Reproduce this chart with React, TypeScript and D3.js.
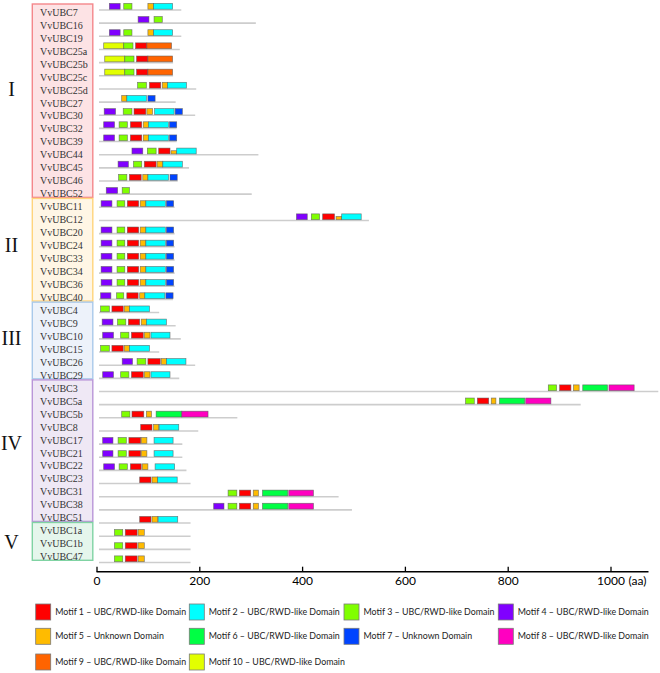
import React, { useEffect, useRef } from "react";
import * as d3 from "d3";

// ---------- DATA ----------
const geneNames = [
  "VvUBC7", "VvUBC16", "VvUBC19", "VvUBC25a", "VvUBC25b", "VvUBC25c", "VvUBC25d", "VvUBC27",
  "VvUBC30", "VvUBC32", "VvUBC39", "VvUBC44", "VvUBC45", "VvUBC46", "VvUBC52",
  "VvUBC11", "VvUBC12", "VvUBC20", "VvUBC24", "VvUBC33", "VvUBC34", "VvUBC36", "VvUBC40",
  "VvUBC4", "VvUBC9", "VvUBC10", "VvUBC15", "VvUBC26", "VvUBC29",
  "VvUBC3", "VvUBC5a", "VvUBC5b", "VvUBC8", "VvUBC17", "VvUBC21", "VvUBC22", "VvUBC23",
  "VvUBC31", "VvUBC38", "VvUBC51",
  "VvUBC1a", "VvUBC1b", "VvUBC47",
];

const geneLengths = [
  165, 310, 165, 162, 149, 149, 194, 154, 192, 156, 156, 315, 180, 158, 302,
  152, 530, 152, 152, 152, 152, 152, 149,
  122, 154, 164, 122, 192, 161,
  1093, 942, 274, 198, 167, 167, 175, 183, 471, 497, 183,
  183, 183, 183,
];

// [motif, start, end, weak?]
type M = [number, number, number, number?];
const m7: M[] = [[4, 25, 46], [3, 53, 69], [5, 100, 111], [2, 111, 148]];
const m25b: M[] = [[10, 16, 55], [3, 55, 73], [1, 78, 100], [9, 100, 148]];
const m32: M[] = [[4, 14, 35], [3, 44, 60], [1, 66, 88], [5, 91, 101], [2, 101, 140], [7, 142, 156]];
const m11: M[] = [[4, 9, 30], [3, 40, 55], [1, 60, 82], [5, 85, 96], [2, 96, 134], [7, 136, 150]];
const m4: M[] = [[3, 8, 25], [1, 30, 52], [5, 54, 64], [2, 64, 103]];
const m10: M[] = [[4, 12, 33], [3, 47, 63], [1, 68, 91], [5, 93, 104], [2, 106, 143]];
const m17: M[] = [[4, 12, 32], [3, 42, 58], [1, 63, 86], [5, 87, 98], [2, 112, 149]];
const m31: M[] = [[3, 256, 273], [1, 278, 300], [5, 305, 315], [6, 323, 372], [8, 374, 422]];
const m1a: M[] = [[3, 35, 51], [1, 56, 79], [5, 81, 93]];

const geneMotifs: M[][] = [
  m7,
  [[4, 81, 102], [3, 112, 128]],
  m7,
  [[10, 14, 53], [3, 53, 71], [1, 76, 98], [9, 98, 146]],
  m25b,
  m25b,
  [[3, 80, 97], [1, 103, 125], [5, 128, 138], [2, 138, 175]],
  [[5, 49, 59], [2, 59, 97], [7, 100, 114]],
  [[4, 15, 37], [3, 52, 69], [1, 73, 96], [5, 98, 109], [2, 113, 151], [7, 153, 167]],
  m32,
  m32,
  [[4, 69, 90], [3, 99, 116], [1, 121, 143], [5, 145, 156, 1], [2, 156, 194]],
  [[4, 42, 62], [3, 72, 88], [1, 93, 116], [5, 118, 129], [2, 129, 167]],
  [[3, 43, 59], [1, 64, 87], [5, 90, 100], [2, 100, 140], [7, 143, 157]],
  [[4, 19, 41], [3, 50, 64]],
  m11,
  [[4, 389, 410], [3, 418, 434], [1, 440, 463], [5, 466, 477, 1], [2, 477, 515]],
  m11, m11, m11, m11, m11,
  [[4, 8, 28], [3, 39, 53], [1, 59, 81], [5, 84, 94], [2, 94, 133], [7, 135, 149]],
  m4,
  [[4, 11, 32], [3, 41, 57], [1, 62, 84], [5, 87, 97], [2, 97, 136]],
  m10,
  m4,
  [[4, 50, 70], [3, 79, 96], [1, 100, 124], [5, 126, 136], [2, 136, 174]],
  m10,
  [[3, 879, 895], [1, 901, 923], [5, 928, 939], [6, 946, 994], [8, 997, 1046]],
  [[3, 718, 735], [1, 741, 763], [5, 768, 777], [6, 784, 833], [8, 835, 884]],
  [[3, 49, 65], [1, 69, 92], [5, 97, 107], [6, 116, 166], [8, 166, 217]],
  [[1, 86, 108], [5, 111, 121], [2, 122, 160]],
  m17,
  m17,
  [[4, 14, 35], [3, 44, 60], [1, 66, 87], [5, 89, 100], [2, 114, 152]],
  [[1, 84, 106], [5, 108, 119], [2, 119, 157]],
  m31,
  [[4, 228, 248], ...m31],
  [[1, 84, 106], [5, 108, 119], [2, 120, 158]],
  m1a, m1a, m1a,
];

const groupNames = ["I", "II", "III", "IV", "V"];
const groupSizes = [15, 8, 6, 11, 3];
const groupFills = ["#fde3e5", "#fff6e5", "#edf2fa", "#efe8f5", "#e5f6ec"];
const groupStrokes = ["#f4878b", "#ffd47c", "#a9c9ea", "#b996d8", "#80d3a3"];

const motifColors = [
  "#ff0000", "#00ffff", "#80ff00", "#8000ff", "#ffbb00",
  "#00ff44", "#0044ff", "#ff00c0", "#ff6400", "#e2ff00",
];
const motifLabels = [
  "Motif 1 \u2013 UBC/RWD-like Domain",
  "Motif 2 \u2013 UBC/RWD-like Domain",
  "Motif 3 \u2013 UBC/RWD-like Domain",
  "Motif 4 \u2013 UBC/RWD-like Domain",
  "Motif 5 \u2013 Unknown Domain",
  "Motif 6 \u2013 UBC/RWD-like Domain",
  "Motif 7 \u2013 Unknown Domain",
  "Motif 8 \u2013 UBC/RWD-like Domain",
  "Motif 9 \u2013 UBC/RWD-like Domain",
  "Motif 10 \u2013 UBC/RWD-like Domain",
];
const axisTicks = [0, 200, 400, 600, 800, 1000];
const axisUnit = "(aa)";

// ---------- LAYOUT ----------
const W = 660;
const H = 673;
const x = d3.scaleLinear().domain([0, 1000]).range([96.5, 610.5]);
const rowY = d3.scalePoint<number>().domain(d3.range(geneNames.length)).range([9.2, 561.7]);
const labelY = d3.scaleLinear().domain([0, geneNames.length - 1]).range([12.3, 556.7]);
const axisY = 571.7;
const boxH = 5.8;

const legendCols = [35.7, 189.3, 344, 498.3];
const legendRows = [612, 636.3, 662];
const sansFont = "Lato, 'Open Sans', sans-serif";
const serifFont = "'Liberation Serif', 'Times New Roman', serif";

export default function App() {
  const axisRef = useRef<SVGGElement>(null);

  useEffect(() => {
    if (!axisRef.current) return;
    const g = d3.select(axisRef.current);
    g.selectAll("*").remove();
    g.call(
      d3.axisBottom(x)
        .tickValues(axisTicks)
        .tickSizeInner(-5)
        .tickSizeOuter(0)
        .tickPadding(5)
        .tickFormat((d) => String(d))
    );
    g.select(".domain").remove();
    g.selectAll(".tick line").attr("stroke", "#000").attr("stroke-width", 1.3);
    g.selectAll(".tick text")
      .attr("font-family", sansFont)
      .attr("font-size", 12)
      .attr("fill", "#000");
    g.insert("line", ":first-child")
      .attr("x1", x(0))
      .attr("x2", x(1000) + 38)
      .attr("y1", 0)
      .attr("y2", 0)
      .attr("stroke", "#000")
      .attr("stroke-width", 1.5);
  }, []);

  const groups: { name: string; first: number; last: number; i: number }[] = [];
  let acc = 0;
  groupSizes.forEach((n, i) => {
    groups.push({ name: groupNames[i], first: acc, last: acc + n - 1, i });
    acc += n;
  });

  return (
    <svg
      width={W}
      height={H}
      style={{ position: "absolute", left: 0, top: 0, background: "#fff" }}
    >
      {groups.map((g) => {
        const top = labelY(g.first) - 8.3;
        const bottom = labelY(g.last) + 3.6;
        const ly = labelY(g.first + (g.last - g.first) * 0.42);
        return (
          <g key={g.name}>
            <rect
              x={32.3}
              y={top}
              width={60.5}
              height={bottom - top}
              fill={groupFills[g.i]}
              stroke={groupStrokes[g.i]}
              strokeWidth={1.4}
            />
            <text
              x={11.5}
              y={ly}
              dy="0.35em"
              textAnchor="middle"
              fontFamily={serifFont}
              fontSize={20}
              fill="#111"
            >
              {g.name}
            </text>
          </g>
        );
      })}

      {geneNames.map((name, i) => (
        <text
          key={name}
          x={40}
          y={labelY(i)}
          dy="0.35em"
          fontFamily={serifFont}
          fontSize={10}
          fill="#333"
        >
          {name}
        </text>
      ))}

      {geneNames.map((name, i) => (
        <line
          key={"l" + name}
          x1={x(0) + 2.5}
          x2={x(geneLengths[i])}
          y1={rowY(i)! + 0.8}
          y2={rowY(i)! + 0.8}
          stroke="#cdcdcd"
          strokeWidth={1.6}
        />
      ))}

      {geneMotifs.map((ms, i) =>
        ms.map((m, j) => {
          const h = m[3] ? boxH * 0.55 : boxH;
          return (
            <rect
              key={i + "-" + j}
              x={x(m[1])}
              y={rowY(i)! - h}
              width={x(m[2]) - x(m[1])}
              height={h}
              fill={motifColors[m[0] - 1]}
              stroke="#5a5a5a"
              strokeOpacity={0.75}
              strokeWidth={0.7}
            />
          );
        })
      )}

      <g ref={axisRef} transform={`translate(0,${axisY})`} />
      <text
        x={x(1000) + 18}
        y={axisY + 5}
        dy="0.71em"
        fontFamily={sansFont}
        fontSize={12}
        fill="#000"
      >
        {axisUnit}
      </text>

      {motifLabels.map((lab, i) => {
        const col = i % 4;
        const row = Math.floor(i / 4);
        const lx = legendCols[col];
        const ly = legendRows[row];
        return (
          <g key={lab}>
            <rect
              x={lx}
              y={ly - 8}
              width={15}
              height={16}
              fill={motifColors[i]}
              stroke="#7a7a7a"
              strokeWidth={0.8}
            />
            <text
              x={lx + 19.5}
              y={ly}
              dy="0.35em"
              fontFamily={sansFont}
              fontSize={8.85}
              fill="#222"
            >
              {lab}
            </text>
          </g>
        );
      })}
    </svg>
  );
}
